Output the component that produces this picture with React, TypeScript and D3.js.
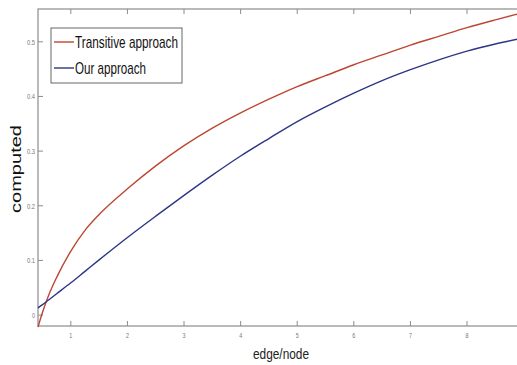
import React, { useEffect, useRef } from "react";
import * as d3 from "d3";

// values
const xValues = [0.42, 0.5, 0.6, 0.75, 1, 1.25, 1.5, 2, 2.5, 3, 3.5, 4, 4.5, 5, 5.5, 6, 6.5, 7, 7.5, 8, 8.5, 8.9];
const transitive = [-0.022, 0.005, 0.034, 0.069, 0.117, 0.155, 0.184, 0.231, 0.273, 0.31, 0.342, 0.37, 0.395, 0.418, 0.438, 0.458, 0.476, 0.494, 0.51, 0.526, 0.54, 0.551];
const ours = [0.013, 0.019, 0.027, 0.039, 0.059, 0.08, 0.101, 0.142, 0.181, 0.219, 0.256, 0.291, 0.323, 0.354, 0.381, 0.406, 0.429, 0.449, 0.467, 0.483, 0.496, 0.505];
const xTicks = [1, 2, 3, 4, 5, 6, 7, 8];
const yTicks = [0, 0.1, 0.2, 0.3, 0.4, 0.5];
const seriesNames = ["Transitive approach", "Our approach"];
const seriesColors = ["#bd4632", "#2c3683"];

const W = 517;
const H = 365;

export default function App() {
  const ref = useRef<SVGSVGElement>(null);

  useEffect(() => {
    const svg = d3.select(ref.current);
    svg.selectAll("*").remove();

    const left = 38, top = 9, bottom = 326;
    const x = d3.scaleLinear().domain([0.42, 9]).range([left, left + 8.58 * 56.6]);
    const y = d3.scaleLinear().domain([-0.02, 0.56]).range([bottom, top]);
    const right = x(9);

    svg.append("rect").attr("width", W).attr("height", H).attr("fill", "#fff");

    const axisColor = "#8c8c8c";
    const font = "'Liberation Sans', Arial, sans-serif";

    // box
    svg.append("rect")
      .attr("x", left).attr("y", top)
      .attr("width", right - left).attr("height", bottom - top)
      .attr("fill", "none").attr("stroke", axisColor).attr("stroke-width", 1.2);

    // x ticks (inward, top and bottom)
    xTicks.forEach((t) => {
      const px = x(t);
      svg.append("line").attr("x1", px).attr("x2", px).attr("y1", bottom).attr("y2", bottom - 5)
        .attr("stroke", axisColor);
      svg.append("line").attr("x1", px).attr("x2", px).attr("y1", top).attr("y2", top + 5)
        .attr("stroke", axisColor);
      svg.append("text").attr("x", px).attr("y", bottom + 12)
        .attr("text-anchor", "middle").attr("font-family", font)
        .attr("font-size", 8).attr("fill", "#777")
        .attr("textLength", 3).attr("lengthAdjust", "spacingAndGlyphs")
        .text(String(t));
    });

    yTicks.forEach((t) => {
      const py = y(t);
      const label = String(t);
      svg.append("line").attr("x1", left).attr("x2", left + 5).attr("y1", py).attr("y2", py)
        .attr("stroke", axisColor);
      svg.append("text").attr("x", left - 3).attr("y", py + 3)
        .attr("text-anchor", "end").attr("font-family", font)
        .attr("font-size", 8).attr("fill", "#777")
        .attr("textLength", label.length > 1 ? 8 : 3).attr("lengthAdjust", "spacingAndGlyphs")
        .text(label);
    });

    // lines
    const line = d3.line<number>()
      .x((_, i) => x(xValues[i]))
      .y((d) => y(d))
      .curve(d3.curveMonotoneX);

    [transitive, ours].forEach((s, i) => {
      svg.append("path").attr("d", line(s) as string)
        .attr("fill", "none").attr("stroke", seriesColors[i]).attr("stroke-width", 1.4);
    });

    // legend
    const lg = svg.append("g");
    lg.append("rect").attr("x", 51).attr("y", 28).attr("width", 131).attr("height", 55)
      .attr("fill", "#fff").attr("stroke", "#666").attr("stroke-width", 1);
    const textLens = [103, 71];
    seriesNames.forEach((n, i) => {
      const ly = 42 + i * 26;
      lg.append("line").attr("x1", 54).attr("x2", 74).attr("y1", ly).attr("y2", ly)
        .attr("stroke", seriesColors[i]).attr("stroke-width", 1.4);
      lg.append("text").attr("x", 75).attr("y", ly + 6)
        .attr("font-family", font).attr("font-size", 17).attr("fill", "#111")
        .attr("textLength", textLens[i]).attr("lengthAdjust", "spacingAndGlyphs")
        .text(n);
    });

    // axis labels
    svg.append("text").attr("x", 281).attr("y", 359)
      .attr("text-anchor", "middle").attr("font-family", font)
      .attr("font-size", 15).attr("fill", "#222")
      .attr("textLength", 56).attr("lengthAdjust", "spacingAndGlyphs")
      .text("edge/node");
    svg.append("text")
      .attr("transform", `translate(21, 169) rotate(-90)`)
      .attr("text-anchor", "middle").attr("font-family", font)
      .attr("font-size", 15).attr("fill", "#111")
      .attr("textLength", 88).attr("lengthAdjust", "spacingAndGlyphs")
      .text("computed");
  }, []);

  return (
    <svg ref={ref} width={W} height={H}
      style={{ position: "absolute", left: 0, top: 0, display: "block" }} />
  );
}
